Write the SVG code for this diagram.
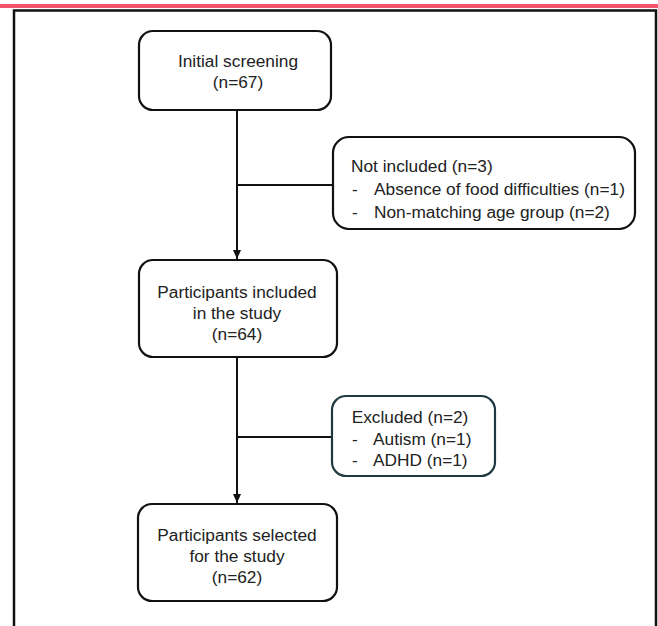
<svg xmlns="http://www.w3.org/2000/svg" width="658" height="626" viewBox="0 0 658 626">
<style>
.box{fill:#fff;stroke:#111;stroke-width:2.2}
.box2{fill:#fff;stroke:#1f3940;stroke-width:2.2}
.t{font-family:"Liberation Sans",Arial,sans-serif;font-size:17.3px;fill:#222}
.c{text-anchor:middle}
.ln{stroke:#111;stroke-width:2;fill:none}
</style>
<defs>
<marker id="ar" markerWidth="10" markerHeight="10" refX="9" refY="5" orient="auto" markerUnits="userSpaceOnUse">
<path d="M0,1 L9,5 L0,9 Z" fill="#111"/>
</marker>
</defs>
<rect x="0" y="0" width="658" height="626" fill="#fff"/>
<rect x="0" y="4" width="658" height="4" fill="#f2566c"/>
<path d="M14,626 V10.5 H656 V626" fill="none" stroke="#111" stroke-width="2.5"/>
<g id="connectors">
<line class="ln" x1="237" y1="110" x2="237" y2="259" marker-end="url(#ar)"/>
<line class="ln" x1="237" y1="185" x2="333" y2="185"/>
<line class="ln" x1="237" y1="357" x2="237" y2="503" marker-end="url(#ar)"/>
<line class="ln" x1="237" y1="437" x2="332" y2="437"/>
</g>
<g id="n1">
<rect class="box" x="139" y="31" width="192" height="79" rx="14"/>
<text class="t c" x="238" y="67">Initial screening</text>
<text class="t c" x="238" y="88">(n=67)</text>
</g>
<g id="n2">
<rect class="box" x="333" y="137" width="302" height="92" rx="16"/>
<text class="t" x="351" y="172">Not included (n=3)</text>
<text class="t" x="352" y="195">-</text>
<text class="t" x="374" y="195">Absence of food difficulties (n=1)</text>
<text class="t" x="352" y="218">-</text>
<text class="t" x="374" y="218">Non-matching age group (n=2)</text>
</g>
<g id="n3">
<rect class="box" x="139" y="260" width="198" height="97" rx="14"/>
<text class="t c" x="237" y="298">Participants included</text>
<text class="t c" x="237" y="319">in the study</text>
<text class="t c" x="237" y="340">(n=64)</text>
</g>
<g id="n4">
<rect class="box2" x="332" y="396" width="163" height="80" rx="14"/>
<text class="t c" x="410" y="423">Excluded (n=2)</text>
<text class="t" x="352" y="445">-</text>
<text class="t" x="373" y="445">Autism (n=1)</text>
<text class="t" x="352" y="466">-</text>
<text class="t" x="373" y="466">ADHD (n=1)</text>
</g>
<g id="n5">
<rect class="box" x="138" y="504" width="199" height="97" rx="14"/>
<text class="t c" x="237" y="541">Participants selected</text>
<text class="t c" x="237" y="562">for the study</text>
<text class="t c" x="237" y="583">(n=62)</text>
</g>
</svg>
